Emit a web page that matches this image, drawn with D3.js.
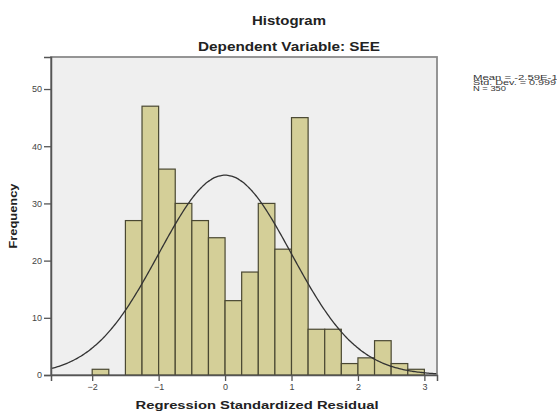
<!DOCTYPE html>
<html>
<head>
<meta charset="utf-8">
<script src="https://cdn.jsdelivr.net/npm/d3@7"></script>
<style>
  body { margin: 0; background: #fff; }
  svg { font-family: "Liberation Sans", Arial, sans-serif; display: block; }
</style>
</head>
<body>
<div id="chart"></div>
<script>
// histogram bins (lower edges) and counts
const binStarts = [-2.0, -1.5, -1.25, -1.0, -0.75, -0.5, -0.25, 0.0, 0.25, 0.5, 0.75, 1.0, 1.25, 1.5, 1.75, 2.0, 2.25, 2.5, 2.75];
const binCounts = [1, 27, 47, 36, 30, 27, 24, 13, 18, 30, 22, 45, 8, 8, 2, 3, 6, 2, 1];
const binWidth = 0.25;

const xTicks = [-2, -1, 0, 1, 2, 3];
const yTicks = [0, 10, 20, 30, 40, 50];

// summary shown in the legend, also used for the normal curve
const statMean = -2.59e-15;
const statSd = 0.999;
const statN = 350;
const statLines = ["Mean = -2.59E-15", "Std. Dev. = 0.999", "N = 350"];
const statWidths = [91, 83, 33];

const width = 557, height = 412;
const plot = { left: 51, right: 437, top: 57, bottom: 375 };

const svg = d3.select("#chart").append("svg")
    .attr("width", width)
    .attr("height", height);

const x = d3.scaleLinear().domain([-2.62, 3.19]).range([plot.left, plot.right]);
const y = d3.scaleLinear().domain([0, 55.6]).range([plot.bottom, plot.top]);

// titles (the original is a bit stretched sideways, so fix the widths)
svg.append("text")
    .attr("x", 289).attr("y", 25)
    .attr("text-anchor", "middle")
    .attr("textLength", 74).attr("lengthAdjust", "spacingAndGlyphs")
    .style("font-weight", "bold").style("font-size", "13.5px").style("fill", "#222")
    .text("Histogram");
svg.append("text")
    .attr("x", 289).attr("y", 51)
    .attr("text-anchor", "middle")
    .attr("textLength", 182).attr("lengthAdjust", "spacingAndGlyphs")
    .style("font-weight", "bold").style("font-size", "13.5px").style("fill", "#222")
    .text("Dependent Variable: SEE");

// plot background
svg.append("rect")
    .attr("x", plot.left).attr("y", plot.top)
    .attr("width", plot.right - plot.left).attr("height", plot.bottom - plot.top)
    .attr("fill", "#efefef")
    .attr("stroke", "#8a8a8a")
    .attr("stroke-width", 1.8);

// bars
svg.append("g").selectAll("rect")
    .data(binStarts.map((s, i) => ({ start: s, count: binCounts[i] })))
    .enter()
    .append("rect")
    .attr("x", d => x(d.start))
    .attr("y", d => y(d.count))
    .attr("width", d => x(d.start + binWidth) - x(d.start))
    .attr("height", d => y(0) - y(d.count))
    .attr("fill", "#d4cf98")
    .attr("stroke", "#4a4832")
    .attr("stroke-width", 1.2);

// normal curve scaled to counts
const scaleK = statN * binWidth / (statSd * Math.sqrt(2 * Math.PI));
const curvePts = d3.range(-2.62, 3.19, 0.02).map(v => [v, scaleK * Math.exp(-0.5 * Math.pow((v - statMean) / statSd, 2))]);
svg.append("path")
    .datum(curvePts)
    .attr("fill", "none")
    .attr("stroke", "#333")
    .attr("stroke-width", 1.3)
    .attr("d", d3.line().x(d => x(d[0])).y(d => y(d[1])).curve(d3.curveBasis));

// axes
const xAxis = svg.append("g")
    .attr("transform", `translate(0,${plot.bottom})`)
    .call(d3.axisBottom(x).tickValues(xTicks).tickSize(6).tickPadding(3).tickFormat(d3.format("d")));
const yAxis = svg.append("g")
    .attr("transform", `translate(${plot.left},0)`)
    .call(d3.axisLeft(y).tickValues(yTicks).tickSize(7).tickPadding(2).tickFormat(d3.format("d")));

[xAxis, yAxis].forEach(g => {
    g.select(".domain").attr("stroke", "#555").attr("stroke-width", 1.5);
    g.selectAll(".tick line").attr("stroke", "#555").attr("stroke-width", 1.3);
    g.selectAll(".tick text").style("font-size", "9px").style("fill", "#444")
        .style("font-family", "\"Liberation Sans\", Arial, sans-serif");
});

// axis labels
svg.append("text")
    .attr("x", 257).attr("y", 409)
    .attr("text-anchor", "middle")
    .attr("textLength", 243).attr("lengthAdjust", "spacingAndGlyphs")
    .style("font-weight", "bold").style("font-size", "11.5px").style("fill", "#222")
    .text("Regression Standardized Residual");
svg.append("text")
    .attr("transform", "translate(17,216) rotate(-90)")
    .attr("text-anchor", "middle")
    .attr("textLength", 65).attr("lengthAdjust", "spacingAndGlyphs")
    .style("font-weight", "bold").style("font-size", "11px").style("fill", "#222")
    .text("Frequency");

// stats legend
svg.append("g").selectAll("text")
    .data(statLines)
    .enter()
    .append("text")
    .attr("x", 473)
    .attr("y", (d, i) => 79.5 + i * 5.7)
    .attr("textLength", (d, i) => statWidths[i]).attr("lengthAdjust", "spacingAndGlyphs")
    .style("font-size", "7px").style("fill", "#333")
    .text(d => d);
</script>
</body>
</html>
